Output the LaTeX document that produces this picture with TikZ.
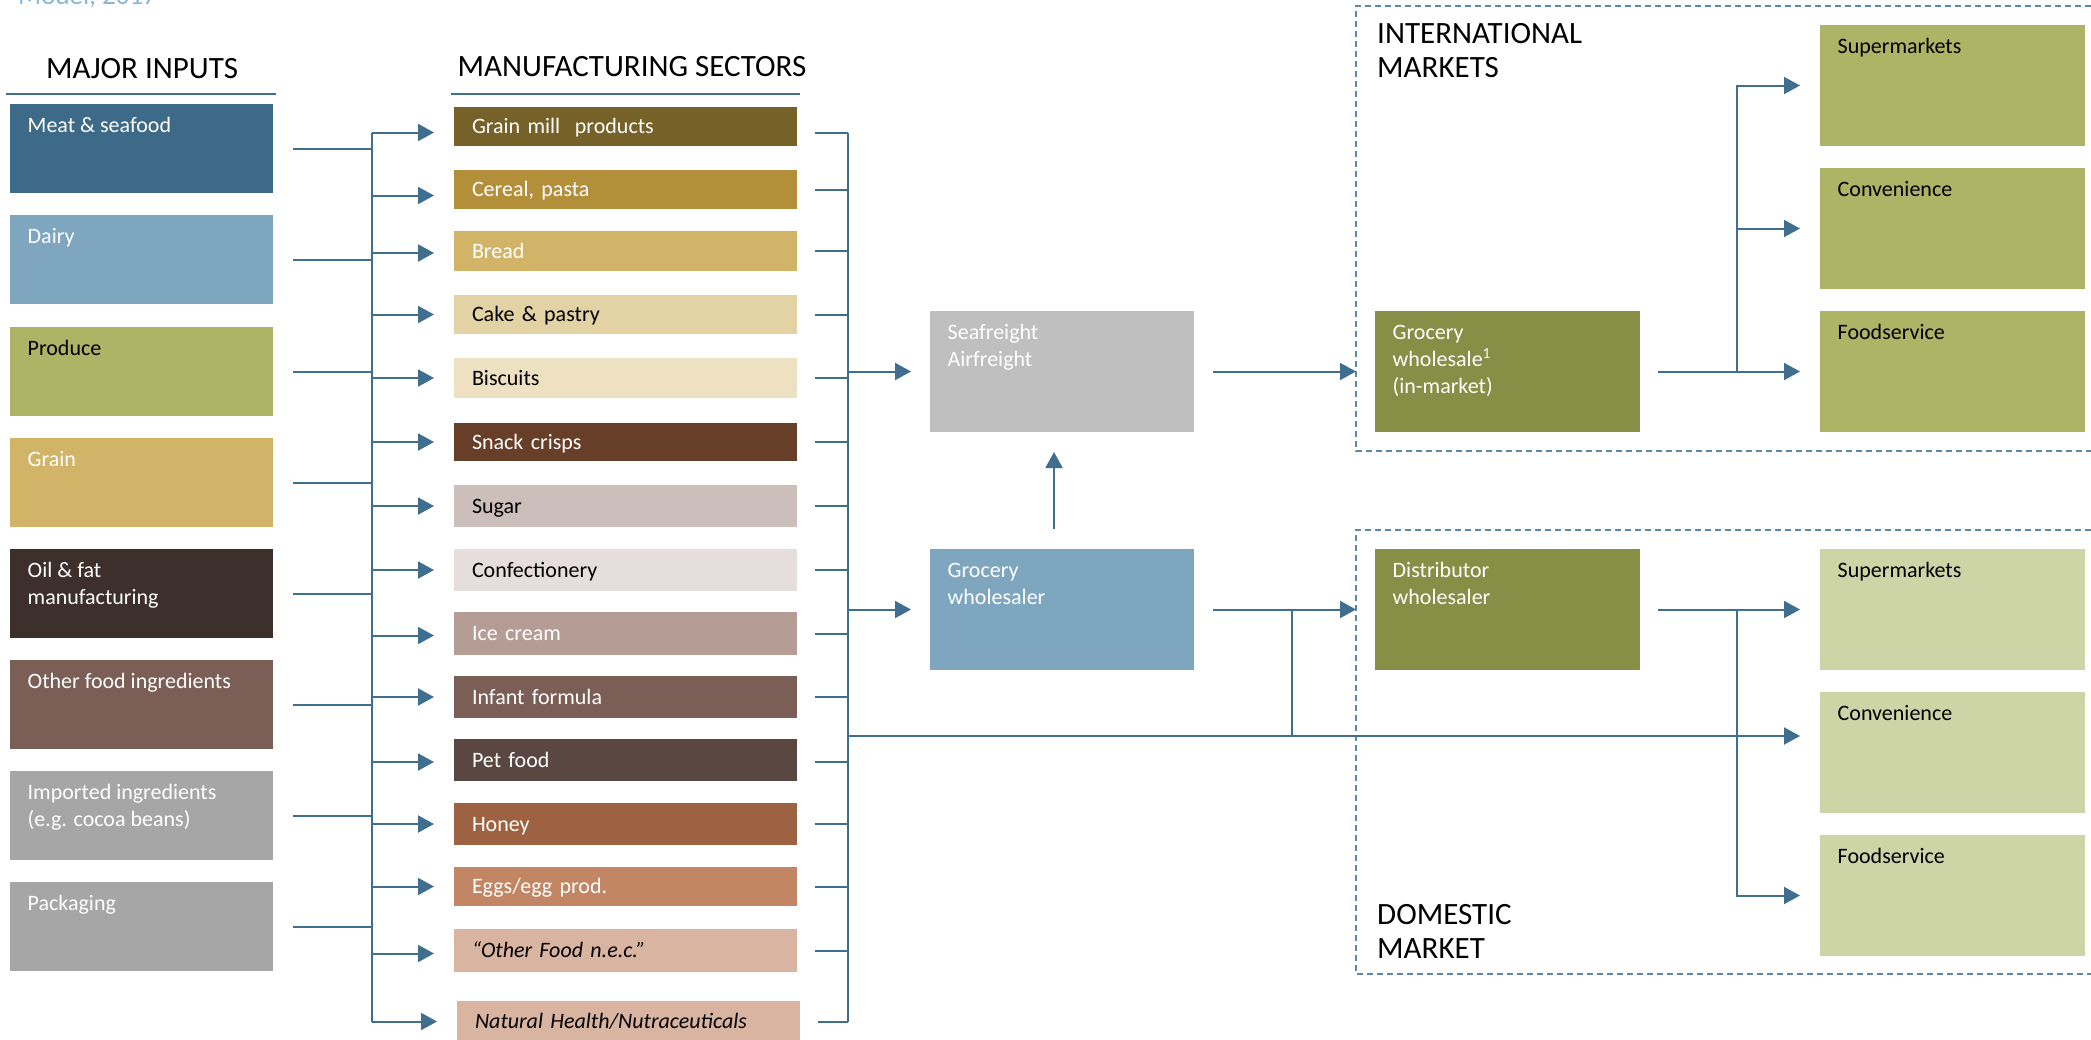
\documentclass[tikz,border=0pt]{standalone}
\usepackage{fontspec}
\setmainfont{Carlito}
\usetikzlibrary{arrows.meta}
\definecolor{lineblue}{HTML}{3F6E8E}
\definecolor{dashblue}{HTML}{5B88A8}
\definecolor{modelblue}{HTML}{86B6DC}
\definecolor{cMeat}{HTML}{3D6A88}
\definecolor{cDairy}{HTML}{7EA6BF}
\definecolor{cProduce}{HTML}{ADB465}
\definecolor{cGrainIn}{HTML}{D1B467}
\definecolor{cOil}{HTML}{3D2F2B}
\definecolor{cOtherI}{HTML}{7B5E55}
\definecolor{cGrey}{HTML}{A6A6A6}
\definecolor{cGrainMill}{HTML}{766128}
\definecolor{cCereal}{HTML}{B38F3A}
\definecolor{cBread}{HTML}{D1B467}
\definecolor{cCake}{HTML}{E3D2A4}
\definecolor{cBisc}{HTML}{EDE1C2}
\definecolor{cSnack}{HTML}{673F28}
\definecolor{cSugar}{HTML}{CCBEBA}
\definecolor{cConf}{HTML}{E6DEDC}
\definecolor{cIce}{HTML}{B59C94}
\definecolor{cInf}{HTML}{7B5E55}
\definecolor{cPet}{HTML}{5B4741}
\definecolor{cHoney}{HTML}{9C6241}
\definecolor{cEggs}{HTML}{C28665}
\definecolor{cNec}{HTML}{D9B4A1}
\definecolor{cSea}{HTML}{BFBFBF}
\definecolor{cOlive}{HTML}{878E45}
\definecolor{cRetI}{HTML}{ADB465}
\definecolor{cRetD}{HTML}{CDD4A5}
\begin{document}
\begin{tikzpicture}[x=1pt,y=-1pt,
 conn/.style={draw=lineblue,line width=2pt},
 arr/.style={conn,-{Triangle[length=16pt,width=17pt]}},
 inb/.style={anchor=north west,inner sep=0pt,outer sep=0pt,minimum width=263pt,minimum height=89pt},
 mb/.style={anchor=north west,inner xsep=18pt,inner ysep=0pt,outer sep=0pt,text width=307pt,minimum height=#1,align=left,font=\fontsize{22}{27}\selectfont,text height=17pt,text depth=3pt},
 mid/.style={anchor=north west,inner sep=0pt,outer sep=0pt,minimum width=264pt,minimum height=121pt},
 ret/.style={anchor=north west,inner sep=0pt,outer sep=0pt,minimum width=265pt,minimum height=121pt},
 lbl/.style={anchor=north west,inner sep=0pt,align=left,font=\fontsize{22}{27}\selectfont,xshift=17.5pt,yshift=-9pt},
 hdr/.style={inner sep=0pt,font=\fontsize{31}{34}\selectfont,text=black},
 ul/.style={draw=lineblue,line width=2.5pt},
 frame/.style={draw=dashblue,line width=1.5pt,dash pattern=on 6pt off 4pt}]
\useasboundingbox (0,0) rectangle (2091,1039);

% title remnant, cut by the top edge as in the source
\node[inner sep=0pt,anchor=base west,text=modelblue,font=\fontsize{27}{32}\selectfont] (model) at (18,4) {Model, 2017};

% headers
\node[hdr,anchor=base] (hin) at (142,78) {MAJOR INPUTS};
\node[hdr,anchor=base] (hms) at (632,76) {MANUFACTURING SECTORS};
\draw[ul] (6,94) -- (276,94);
\draw[ul] (451,94) -- (800,94);

% dashed market frames
\draw[frame] (2091,6) -- (1356,6) -- (1356,451) -- (2091,451);
\draw[frame] (2091,530) -- (1356,530) -- (1356,974) -- (2091,974);
\node[hdr,anchor=base west] (hint1) at (1377,43) {INTERNATIONAL};
\node[hdr,anchor=base west] (hint2) at (1377,77) {MARKETS};
\node[hdr,anchor=base west] (hdom1) at (1377,924) {DOMESTIC};
\node[hdr,anchor=base west] (hdom2) at (1377,958) {MARKET};

% input boxes
\node[inb,fill=cMeat] (meat) at (10,104) {};
\node[inb,fill=cDairy] (dairy) at (10,215) {};
\node[inb,fill=cProduce] (produce) at (10,327) {};
\node[inb,fill=cGrainIn] (grainin) at (10,438) {};
\node[inb,fill=cOil] (oil) at (10,549) {};
\node[inb,fill=cOtherI] (otheri) at (10,660) {};
\node[inb,fill=cGrey] (imp) at (10,771) {};
\node[inb,fill=cGrey] (pack) at (10,882) {};
\node[lbl,text=white] (meat-t) at (meat.north west) {\strut Meat \& seafood};
\node[lbl,text=white] (dairy-t) at (dairy.north west) {\strut Dairy};
\node[lbl,text=black] (produce-t) at (produce.north west) {\strut Produce};
\node[lbl,text=white] (grainin-t) at (grainin.north west) {\strut Grain};
\node[lbl,text=white] (oil-t) at (oil.north west) {\strut Oil \& fat\\manufacturing};
\node[lbl,text=white] (otheri-t) at (otheri.north west) {\strut Other food ingredients};
\node[lbl,text=white] (imp-t) at (imp.north west) {\strut Imported ingredients\\(e.g. cocoa beans)};
\node[lbl,text=white] (pack-t) at (pack.north west) {\strut Packaging};

% manufacturing sectors
\node[mb=39pt,fill=cGrainMill,text=white] (grain) at (454,107) {Grain mill~ products};
\node[mb=39pt,fill=cCereal,text=white] (cereal) at (454,170) {Cereal, pasta};
\node[mb=40pt,fill=cBread,text=white] (bread) at (454,231) {Bread};
\node[mb=39pt,fill=cCake,text=black] (cake) at (454,295) {Cake \& pastry};
\node[mb=40pt,fill=cBisc,text=black] (bisc) at (454,358) {Biscuits};
\node[mb=38pt,fill=cSnack,text=white] (snack) at (454,423) {Snack crisps};
\node[mb=42pt,fill=cSugar,text=black] (sugar) at (454,485) {Sugar};
\node[mb=42pt,fill=cConf,text=black] (conf) at (454,549) {Confectionery};
\node[mb=43pt,fill=cIce,text=white] (ice) at (454,612) {Ice cream};
\node[mb=42pt,fill=cInf,text=white] (inf) at (454,676) {Infant formula};
\node[mb=42pt,fill=cPet,text=white] (pet) at (454,739) {Pet food};
\node[mb=42pt,fill=cHoney,text=white] (honey) at (454,803) {Honey};
\node[mb=39pt,fill=cEggs,text=white] (eggs) at (454,867) {Eggs/egg prod.};
\node[mb=43pt,fill=cNec,text=black,font=\fontsize{22}{27}\selectfont\itshape] (nec) at (454,929) {“Other Food n.e.c.”};
\node[mb=41pt,fill=cNec,text=black,font=\fontsize{22}{27}\selectfont\itshape] (nat) at (457,1001) {Natural Health/Nutraceuticals};

% middle boxes
\node[mid,fill=cSea] (sea) at (930,311) {};
\node[mid,fill=cDairy] (gw) at (930,549) {};
\node[ret,fill=cOlive] (gwi) at (1375,311) {};
\node[ret,fill=cOlive] (dw) at (1375,549) {};
\node[lbl,text=white] (sea-t) at (sea.north west) {\strut Seafreight\\Airfreight};
\node[lbl,text=white] (gw-t) at (gw.north west) {\strut Grocery\\wholesaler};
\node[lbl,text=white] (gwi-t) at (gwi.north west) {\strut Grocery\\wholesale\textsuperscript{1}\\(in-market)};
\node[lbl,text=white] (dw-t) at (dw.north west) {\strut Distributor\\wholesaler};

% retail boxes
\node[ret,fill=cRetI] (supI) at (1820,25) {};
\node[ret,fill=cRetI] (convI) at (1820,168) {};
\node[ret,fill=cRetI] (foodI) at (1820,311) {};
\node[ret,fill=cRetD] (supD) at (1820,549) {};
\node[ret,fill=cRetD] (convD) at (1820,692) {};
\node[ret,fill=cRetD] (foodD) at (1820,835) {};
\node[lbl,text=black] (supI-t) at (supI.north west) {\strut Supermarkets};
\node[lbl,text=black] (convI-t) at (convI.north west) {\strut Convenience};
\node[lbl,text=black] (foodI-t) at (foodI.north west) {\strut Foodservice};
\node[lbl,text=black] (supD-t) at (supD.north west) {\strut Supermarkets};
\node[lbl,text=black] (convD-t) at (convD.north west) {\strut Convenience};
\node[lbl,text=black] (foodD-t) at (foodD.north west) {\strut Foodservice};

% bus coordinates
\coordinate (lbx) at (372,0);
\coordinate (rbx) at (848,0);
\coordinate (jn) at (1292,736);
\coordinate (bxx) at (1737,0);
\coordinate (gtopL) at ([yshift=-6pt]grain.west);
\coordinate (gtopR) at ([yshift=-6pt]grain.east);

% left bus: inputs to sectors
\draw[conn] (lbx |- gtopL) -- (lbx |- nat.west);
\foreach \n in {meat,dairy,produce,grainin,oil,otheri,imp,pack}
  \draw[conn,shorten <=20pt] (\n.east) -- (\n.east -| lbx);
\foreach \n/\o in {grain/-6,cereal/-6,bread/-2,cake/0,bisc/0,snack/0,sugar/0,conf/0,ice/-2,inf/0,pet/-2,honey/0,eggs/0,nec/-3,nat/0}
  \draw[arr,shorten >=20pt] ([yshift=\o pt]\n.west -| lbx) -- ([yshift=\o pt]\n.west);

% right bus: sectors out
\draw[conn] (rbx |- gtopR) -- (rbx |- nat.east);
\foreach \n/\o in {grain/-6,cereal/0,bread/0,cake/0,bisc/0,snack/0,sugar/0,conf/0,ice/0,inf/0,pet/-2,honey/0,eggs/0,nec/0,nat/0}
  \draw[conn,shorten <=18pt] ([yshift=\o pt]\n.east) -- ([yshift=\o pt]\n.east -| rbx);
\draw[arr,shorten >=19pt] (rbx |- sea.west) -- (sea.west);
\draw[arr,shorten >=19pt] (rbx |- gw.west) -- (gw.west);
\draw[arr,shorten >=20pt] (rbx |- jn) -- (jn -| convD.west);

% middle flows
\draw[arr,shorten <=20pt,shorten >=20pt] ([xshift=-8pt]gw.north) -- ([xshift=-8pt]sea.south);
\draw[arr,shorten <=19pt,shorten >=19pt] (sea.east) -- (gwi.west);
\draw[arr,shorten <=19pt,shorten >=19pt] (gw.east) -- (dw.west);
\draw[conn] (gw.east -| jn) -- (jn);

% international distribution
\draw[arr,shorten <=18pt,shorten >=20pt] (gwi.east) -- (foodI.west);
\draw[arr,shorten >=20pt] (gwi.east -| bxx) -- (supI.west -| bxx) -- (supI.west);
\draw[arr,shorten >=20pt] (convI.west -| bxx) -- (convI.west);

% domestic distribution
\draw[arr,shorten <=18pt,shorten >=20pt] (dw.east) -- (supD.west);
\draw[arr,shorten >=20pt] (dw.east -| bxx) -- (foodD.west -| bxx) -- (foodD.west);
\end{tikzpicture}
\end{document}
